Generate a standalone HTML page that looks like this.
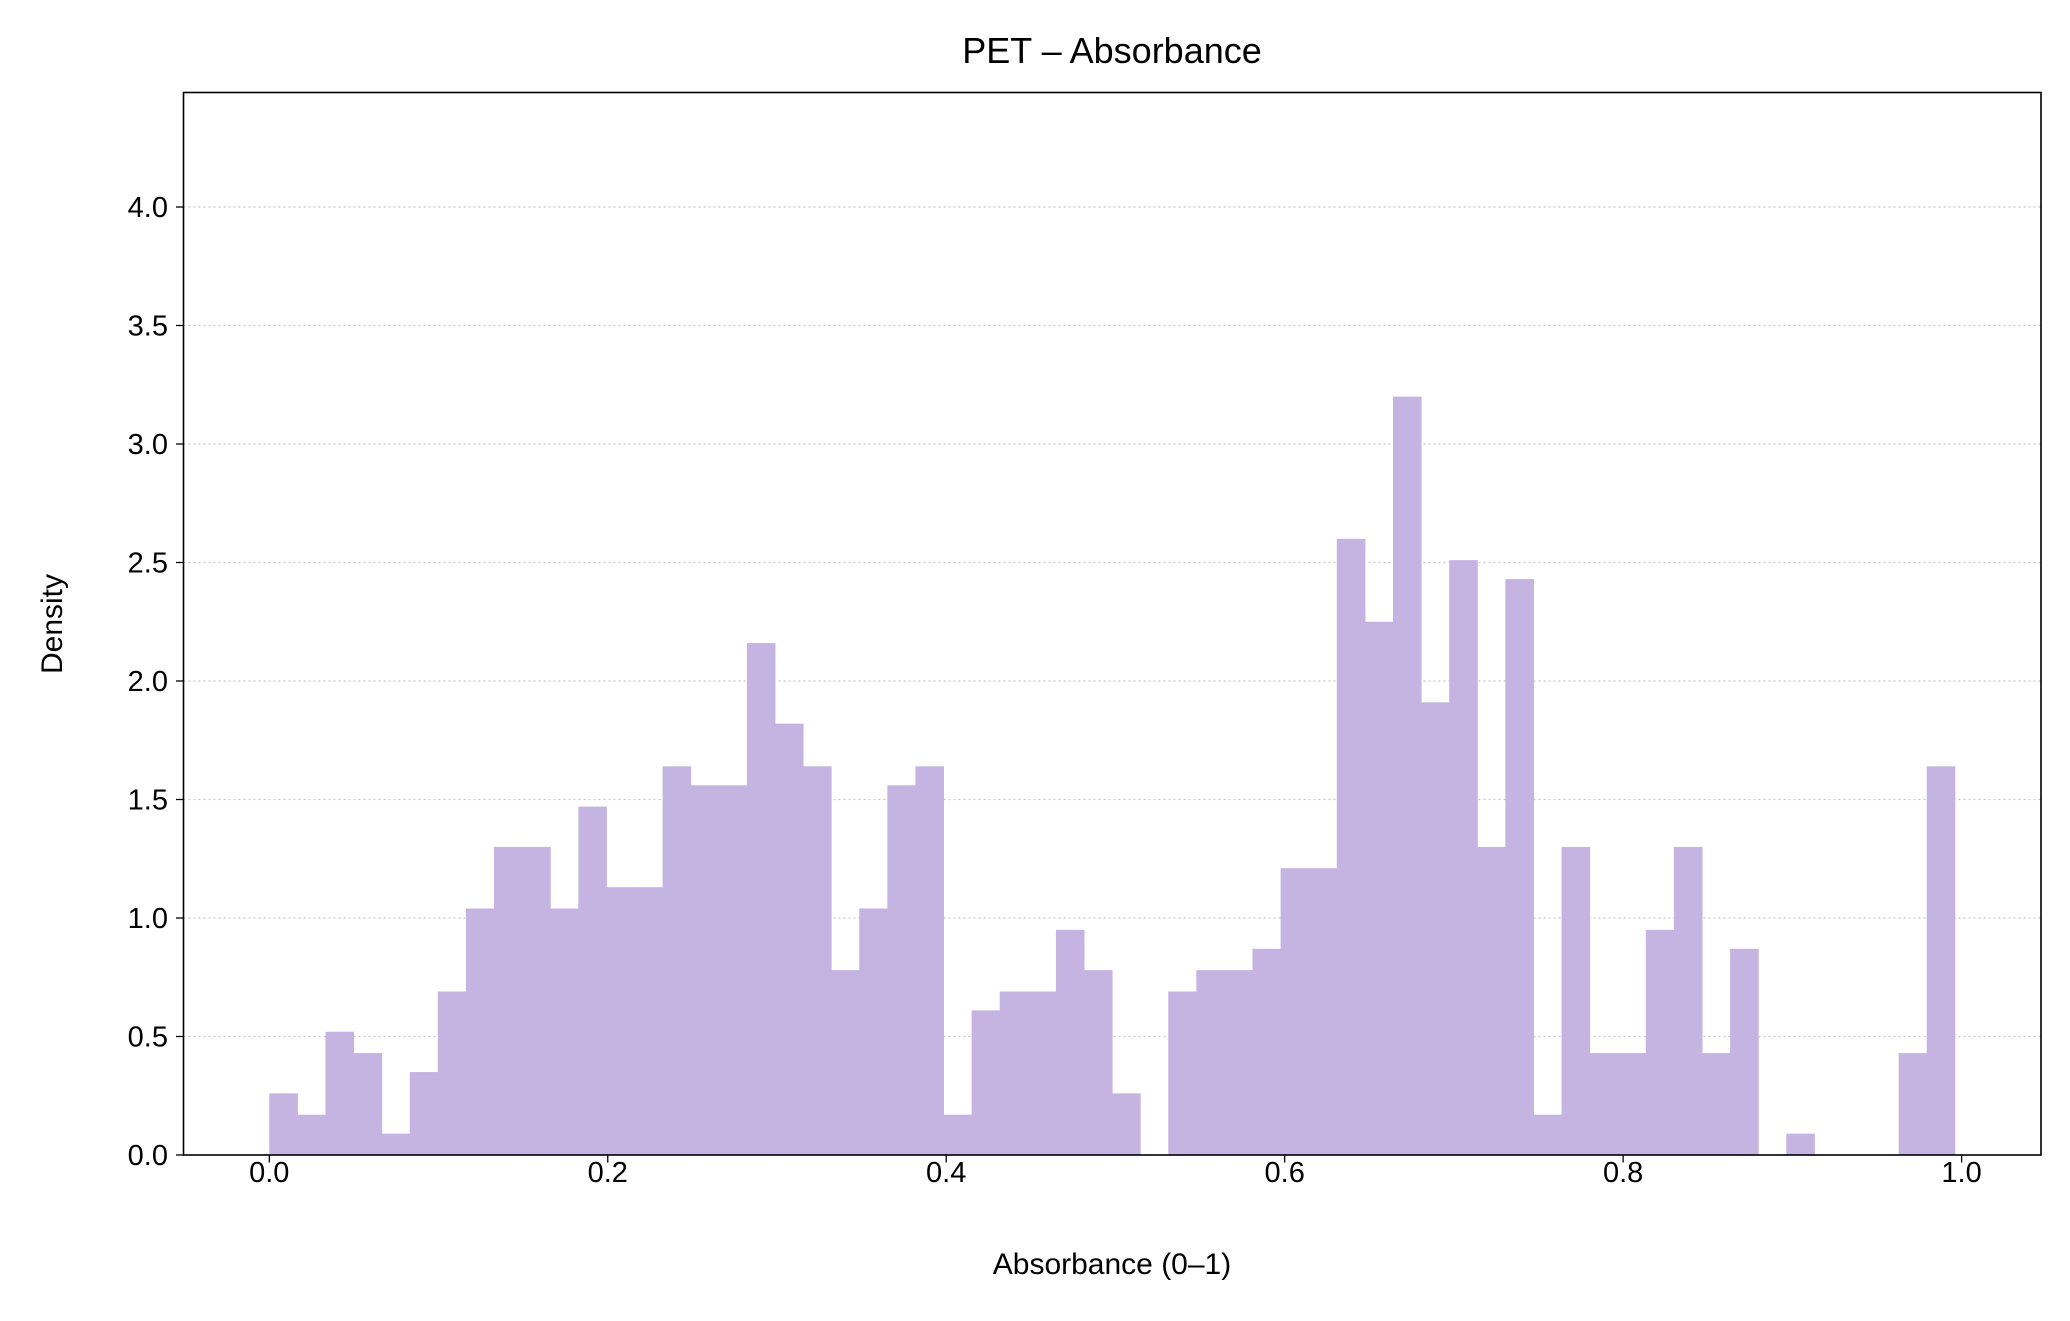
<!DOCTYPE html>
<html><head><meta charset="utf-8"><style>
html,body{margin:0;padding:0;background:#fff;}
svg text{font-family:"Liberation Sans","DejaVu Sans",sans-serif;fill:#000;}
</style></head><body>
<svg id="chart" width="2070" height="1316" xmlns="http://www.w3.org/2000/svg">
<rect width="2070" height="1316" fill="#fff"/>
<text x="1112" y="63" font-size="36" text-anchor="middle">PET – Absorbance</text>
<g id="grid"></g>
<g id="bars"></g>
<rect x="183.5" y="92.5" width="1857.5" height="1062.5" fill="none" stroke="#000" stroke-width="1.6"/>
<g id="yticks"></g>
<g id="xticks"></g>
<text x="1112" y="1274" font-size="30" text-anchor="middle">Absorbance (0–1)</text>
<text transform="translate(62,624) rotate(-90)" font-size="30" text-anchor="middle">Density</text>
</svg>
<script>
const densities=[0.26,0.17,0.52,0.43,0.09,0.35,0.69,1.04,1.30,1.30,1.04,1.47,1.13,1.13,1.64,1.56,1.56,2.16,1.82,1.64,0.78,1.04,1.56,1.64,0.17,0.61,0.69,0.69,0.95,0.78,0.26,0,0.69,0.78,0.78,0.87,1.21,1.21,2.60,2.25,3.20,1.91,2.51,1.30,2.43,0.17,1.30,0.43,0.43,0.95,1.30,0.43,0.87,0,0.09,0,0,0,0.43,1.64];
const binStart=0.0;
const binEnd=0.996;
const yTicks=[0,0.5,1.0,1.5,2.0,2.5,3.0,3.5,4.0];
const xTicks=[0,0.2,0.4,0.6,0.8,1.0];
const NS="http://www.w3.org/2000/svg";
const X0=269.3,X1=1961.6,Y0=1155,PPU=237;
function xs(v){return X0+(X1-X0)*v;}
function ys(v){return Y0-PPU*v;}
const bars=document.getElementById('bars');
const w=(binEnd-binStart)/densities.length;
densities.forEach((d,i)=>{
 if(d<=0)return;
 const r=document.createElementNS(NS,'rect');
 const xa=xs(binStart+i*w),xb=xs(binStart+(i+1)*w);
 r.setAttribute('x',xa);r.setAttribute('width',xb-xa+0.5);
 r.setAttribute('y',ys(d));r.setAttribute('height',Y0-ys(d));
 r.setAttribute('fill','#c5b3e2');
 
 
 bars.appendChild(r);
});
const grid=document.getElementById('grid'),yt=document.getElementById('yticks'),xt=document.getElementById('xticks');
yTicks.forEach(t=>{
 const y=ys(t);
 if(t>0){const g=document.createElementNS(NS,'line');
 g.setAttribute('x1',183.5);g.setAttribute('x2',2041);g.setAttribute('y1',y);g.setAttribute('y2',y);
 g.setAttribute('stroke','#c8c8c8');g.setAttribute('stroke-width','1.3');g.setAttribute('stroke-dasharray','2,3');
 
 
 grid.appendChild(g);}
 const l=document.createElementNS(NS,'line');
 l.setAttribute('x1',176);l.setAttribute('x2',183.5);l.setAttribute('y1',y);l.setAttribute('y2',y);l.setAttribute('stroke','#000');l.setAttribute('stroke-width','1.3');
 
 
 yt.appendChild(l);
 const tx=document.createElementNS(NS,'text');
 tx.setAttribute('x',168);tx.setAttribute('y',y+10);tx.setAttribute('font-size','29');tx.setAttribute('text-anchor','end');
 tx.textContent=t.toFixed(1);
 
 
 yt.appendChild(tx);
});
xTicks.forEach(t=>{
 const x=xs(t);
 const l=document.createElementNS(NS,'line');
 l.setAttribute('x1',x);l.setAttribute('x2',x);l.setAttribute('y1',1155);l.setAttribute('y2',1162.5);l.setAttribute('stroke','#000');l.setAttribute('stroke-width','1.3');
 
 
 xt.appendChild(l);
 const tx=document.createElementNS(NS,'text');
 tx.setAttribute('x',x);tx.setAttribute('y',1182);tx.setAttribute('font-size','29');tx.setAttribute('text-anchor','middle');
 tx.textContent=t.toFixed(1);
 
 
 xt.appendChild(tx);
});
</script>
</body></html>
